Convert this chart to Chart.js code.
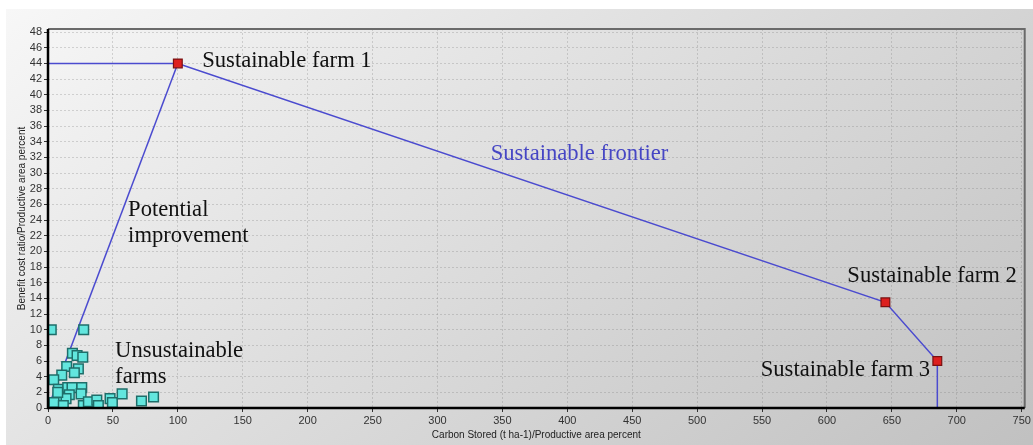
<!DOCTYPE html>
<html>
<head>
<meta charset="utf-8">
<script src="https://cdn.jsdelivr.net/npm/chart.js@4"></script>
<style>
html,body{margin:0;padding:0;background:#fff;}
#wrap{width:1033px;height:445px;position:relative;}
</style>
</head>
<body>
<div id="wrap"><canvas id="c" width="1033" height="445"></canvas></div>
<script>
// ---- data ----
const unsustX = [2.5, 27.5, 18.8, 22.4, 26.8, 14.4, 23.4, 20.3, 10.6, 4.4, 8, 15.2, 18.5, 26, 25.5, 16.4, 8.7, 13.9, 4.6, 11.8, 27.2, 31.1, 37.6, 38.8, 47.8, 49.6, 57.1, 72, 81.3, 7.5];
const unsustY = [10, 10, 7.0, 6.7, 6.5, 5.3, 5.0, 4.5, 4.2, 3.6, 2.4, 2.6, 2.6, 2.6, 1.8, 1.7, 1.4, 1.2, 0.7, 0.3, 0.3, 0.8, 1.0, 0.3, 1.2, 0.7, 1.8, 0.9, 1.4, 2.0];
const frontierX = [0, 100, 645, 685, 685];
const frontierY = [44, 44, 13.5, 6, 0];
const improvementX = [0, 100];
const improvementY = [0, 44];
const sustX = [100, 645, 685];
const sustY = [44, 13.5, 6];
const xTicks = [0, 50, 100, 150, 200, 250, 300, 350, 400, 450, 500, 550, 600, 650, 700, 750];
const yTicks = [0, 2, 4, 6, 8, 10, 12, 14, 16, 18, 20, 22, 24, 26, 28, 30, 32, 34, 36, 38, 40, 42, 44, 46, 48];

// annotation labels
const labelTexts = ["Sustainable farm 1", "Sustainable frontier", "Potential", "improvement", "Unsustainable", "farms", "Sustainable farm 2", "Sustainable farm 3"];
const labelX = [118.8, 341, 61.7, 61.7, 51.7, 51.7, 615.7, 549];
const labelY = [44.3, 32.4, 25.3, 22.0, 7.3, 4.0, 16.9, 4.9];
const labelColors = ["#111", "#4646c4", "#111", "#111", "#111", "#111", "#111", "#111"];

const zip = (xs, ys) => xs.map((x, i) => ({x, y: ys[i]}));

const bgPlugin = {
  id: 'bg',
  beforeDraw(chart) {
    const ctx = chart.ctx;
    ctx.save();
    ctx.fillStyle = '#fff';
    ctx.fillRect(0, 0, chart.width, chart.height);
    const g = ctx.createLinearGradient(6, 9, 700, 900);
    g.addColorStop(0, '#f7f7f7');
    g.addColorStop(1, '#b8b8b8');
    ctx.fillStyle = g;
    ctx.fillRect(6, 9, chart.width - 6, chart.height - 9);
    ctx.restore();
  },
  afterDatasetsDraw(chart) {
    const ctx = chart.ctx;
    const a = chart.chartArea;
    const xs = chart.scales.x, ys = chart.scales.y;
    ctx.save();
    ctx.strokeStyle = '#6a6a6a';
    ctx.lineWidth = 2;
    ctx.beginPath();
    ctx.moveTo(a.left, a.top);
    ctx.lineTo(a.right, a.top);
    ctx.lineTo(a.right, a.bottom);
    ctx.stroke();
    ctx.strokeStyle = '#000';
    ctx.lineWidth = 2.5;
    ctx.beginPath();
    ctx.moveTo(a.left, a.top);
    ctx.lineTo(a.left, a.bottom);
    ctx.lineTo(a.right, a.bottom);
    ctx.stroke();
    ctx.font = "22.6px 'Liberation Serif'";
    ctx.textBaseline = 'middle';
    ctx.textAlign = 'left';
    labelTexts.forEach((t, i) => {
      ctx.fillStyle = labelColors[i];
      ctx.fillText(t, xs.getPixelForValue(labelX[i]), ys.getPixelForValue(labelY[i]));
    });
    ctx.restore();
  }
};

const gridOpts = {color: 'rgba(120,120,120,0.28)', tickColor: '#333', tickLength: 4};

new Chart(document.getElementById('c'), {
  type: 'scatter',
  data: {
    datasets: [
      {
        label: 'Unsustainable farms',
        data: zip(unsustX, unsustY),
        pointStyle: 'rect',
        pointRadius: 6.8,
        backgroundColor: '#62e6de',
        borderColor: '#1f6e6a',
        borderWidth: 1.5,
        order: 0
      },
      {
        label: 'Sustainable farms',
        data: zip(sustX, sustY),
        pointStyle: 'rect',
        pointRadius: 6.2,
        backgroundColor: '#dd1f1f',
        borderColor: '#7a1010',
        borderWidth: 1.2,
        order: 1
      },
      {
        label: 'Sustainable frontier',
        data: zip(frontierX, frontierY),
        showLine: true,
        pointRadius: 0,
        borderColor: '#4b4bcf',
        borderWidth: 1.5,
        order: 2
      },
      {
        label: 'Potential improvement',
        data: zip(improvementX, improvementY),
        showLine: true,
        pointRadius: 0,
        borderColor: '#4b4bcf',
        borderWidth: 1.5,
        order: 3
      }
    ]
  },
  options: {
    responsive: false,
    animation: false,
    devicePixelRatio: 1,
    layout: {padding: {left: 16, top: 29, right: 8, bottom: 4}},
    plugins: {legend: {display: false}, tooltip: {enabled: false}},
    scales: {
      x: {
        type: 'linear',
        min: 0,
        max: 752.3,
        afterBuildTicks(s) { s.ticks = xTicks.map(v => ({value: v})); },
        afterFit(s) { s.height = 33; },
        ticks: {autoSkip: false, color: '#333', font: {family: 'Liberation Sans', size: 11}, padding: 2, maxRotation: 0, minRotation: 0},
        grid: gridOpts,
        border: {display: false, dash: [2, 2]},
        title: {display: true, text: 'Carbon Stored (t ha-1)/Productive area percent', color: '#222', font: {family: 'Liberation Sans', size: 10}, padding: {top: 0, bottom: 0}}
      },
      y: {
        type: 'linear',
        min: 0,
        max: 48.4,
        afterBuildTicks(s) { s.ticks = yTicks.map(v => ({value: v})); },
        afterFit(s) { s.width = 32; },
        ticks: {autoSkip: false, color: '#333', font: {family: 'Liberation Sans', size: 11}, padding: 2},
        grid: gridOpts,
        border: {display: false, dash: [2, 2]},
        title: {display: true, text: 'Benefit cost ratio/Productive area percent', color: '#222', font: {family: 'Liberation Sans', size: 10}, padding: {top: 0, bottom: 0}}
      }
    }
  },
  plugins: [bgPlugin]
});
</script>
</body>
</html>
